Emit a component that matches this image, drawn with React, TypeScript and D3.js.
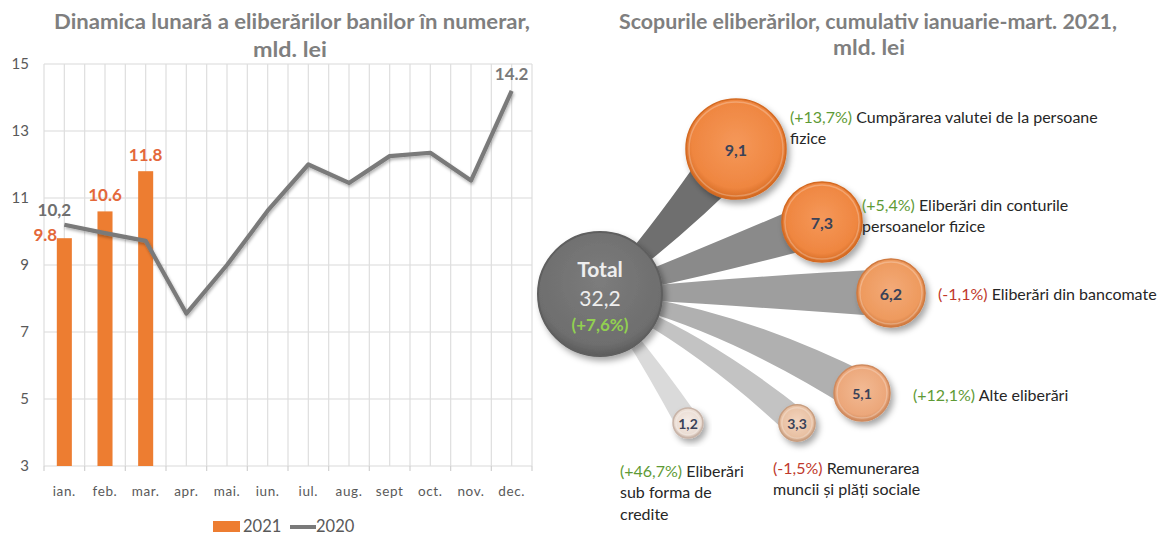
import React from 'react';
import * as d3 from 'd3';

const months = ['ian.', 'feb.', 'mar.', 'apr.', 'mai.', 'iun.', 'iul.', 'aug.', 'sept', 'oct.', 'nov.', 'dec.'];
const values2021 = [9.8, 10.6, 11.8];
const values2020 = [10.2, 9.95, 9.72, 7.55, 9.0, 10.62, 12.0, 11.45, 12.25, 12.35, 11.52, 14.2];
const yTicks = [3, 5, 7, 9, 11, 13, 15];
const labels2021 = ['9.8', '10.6', '11.8'];

const totalValue = '32,2';
const totalChange = '(+7,6%)';
const purposeValues = [9.1, 7.3, 6.2, 5.1, 3.3, 1.2];
const purposeValueLabels = ['9,1', '7,3', '6,2', '5,1', '3,3', '1,2'];
const purposeChanges = ['(+13,7%)', '(+5,4%)', '(-1,1%)', '(+12,1%)', '(-1,5%)', '(+46,7%)'];
const purposeNames = [
  ['Cumpărarea valutei de la persoane', 'fizice'],
  ['Eliberări din conturile', 'persoanelor fizice'],
  ['Eliberări din bancomate'],
  ['Alte eliberări'],
  ['Remunerarea', 'muncii și plăți sociale'],
  ['Eliberări', 'sub forma de', 'credite'],
];

const FONT = 'Lato, "Open Sans", sans-serif';
const GREY_TITLE = '#7f7f7f';
const ORANGE = '#ED7D31';

// layout for bubbles (positions only)
const bubbleLayout = [
  { cx: 736, cy: 149, ang: -44, w0: 18, w1: 50, bandColor: '#6f6f6f', fill: ['#F5985A', '#EF8640', '#D46A22'], lx: 790, ly: 116 },
  { cx: 822, cy: 222, ang: -17, w0: 16, w1: 46, bandColor: '#8a8a8a', fill: ['#F5985A', '#EF8640', '#D46A22'], lx: 862, ly: 204 },
  { cx: 891, cy: 293, ang: -1, w0: 14, w1: 48, bandColor: '#9e9e9e', fill: ['#F3AA78', '#EE9A5E', '#D07A40'], lx: 938, ly: 293 },
  { cx: 862, cy: 393, ang: 13, w0: 13, w1: 40, bandColor: '#b0b0b0', fill: ['#F2BA94', '#ECA77A', '#CF8A5E'], lx: 913, ly: 394 },
  { cx: 797, cy: 423, ang: 27, w0: 11, w1: 28, bandColor: '#c3c3c3', fill: ['#F3D4BE', '#E8C0A2', '#C89E80'], lx: 773, ly: 467 },
  { cx: 688, cy: 423, ang: 54, w0: 10, w1: 24, bandColor: '#dadada', fill: ['#F6EDE8', '#EADCD2', '#C8B4A8'], lx: 620, ly: 470 },
];

const TOTAL = { cx: 600, cy: 294, r: 62 };

function bandPath(sx: number, sy: number, bx: number, by: number, theta: number, w0: number, w1: number) {
  const dx = Math.cos(theta), dy = Math.sin(theta);
  const L = Math.hypot(bx - sx, by - sy);
  const cx = sx + dx * L * 0.45, cy = sy + dy * L * 0.45;
  const norm = (x: number, y: number) => { const l = Math.hypot(x, y) || 1; return [x / l, y / l]; };
  const [t0x, t0y] = norm(cx - sx, cy - sy);
  const [t1x, t1y] = norm(bx - cx, by - cy);
  const n0 = [-t0y, t0x], n1 = [-t1y, t1x];
  const nc = norm(n0[0] + n1[0], n0[1] + n1[1]);
  const wc = (w0 + w1) / 4;
  const p = d3.path();
  p.moveTo(sx + n0[0] * w0 / 2, sy + n0[1] * w0 / 2);
  p.quadraticCurveTo(cx + nc[0] * wc, cy + nc[1] * wc, bx + n1[0] * w1 / 2, by + n1[1] * w1 / 2);
  p.lineTo(bx - n1[0] * w1 / 2, by - n1[1] * w1 / 2);
  p.quadraticCurveTo(cx - nc[0] * wc, cy - nc[1] * wc, sx - n0[0] * w0 / 2, sy - n0[1] * w0 / 2);
  p.closePath();
  return p.toString();
}

function LeftChart() {
  const x0 = 44, x1 = 532, yTop = 64, yBot = 466;
  const x = d3.scalePoint<string>().domain(months).range([x0, x1]).padding(0.5);
  const step = x.step();
  const y = d3.scaleLinear().domain([3, 15]).range([yBot, yTop]);
  const barW = step * 0.37;
  const vLines = d3.range(0, months.length * 2 + 1).map((i) => x0 + (i * step) / 2);
  const line = d3.line<number>().x((_, i) => x(months[i]) as number).y((d) => y(d));
  return (
    <g>
      <text x={292} y={29} textAnchor="middle" fontFamily={FONT} fontWeight="bold" fontSize={20} fill={GREY_TITLE} textLength={476} lengthAdjust="spacingAndGlyphs">
        Dinamica lunară a eliberărilor banilor în numerar,
      </text>
      <text x={290} y={57} textAnchor="middle" fontFamily={FONT} fontWeight="bold" fontSize={20} fill={GREY_TITLE} textLength={74} lengthAdjust="spacingAndGlyphs">
        mld. lei
      </text>
      {yTicks.map((t) => (
        <line key={'h' + t} x1={x0} x2={x1} y1={y(t)} y2={y(t)} stroke="#d9d9d9" strokeWidth={1.2} />
      ))}
      {vLines.map((vx, i) => (
        <line key={'v' + i} x1={vx} x2={vx} y1={yTop} y2={yBot} stroke="#dedede" strokeWidth={1.2} />
      ))}
      {d3.range(0, months.length + 1).map((i) => (
        <line key={'tk' + i} x1={x0 + i * step} x2={x0 + i * step} y1={yBot} y2={yBot + 5} stroke="#d0d0d0" strokeWidth={1.2} />
      ))}
      {yTicks.map((t) => (
        <text key={'yl' + t} x={29} y={y(t) + 5} textAnchor="end" fontFamily={FONT} fontSize={15} fill="#595959">
          {t}
        </text>
      ))}
      {months.map((m) => (
        <text key={'xl' + m} x={x(m) as number} y={496} textAnchor="middle" fontFamily={FONT} fontSize={13.5} letterSpacing={0.6} fill="#595959">
          {m}
        </text>
      ))}
      {values2021.map((v, i) => (
        <rect key={'b' + i} x={(x(months[i]) as number) - barW / 2} y={y(v)} width={barW} height={yBot - y(v)} fill={ORANGE} />
      ))}
      <path d={line(values2020) || ''} fill="none" stroke="#7a7a7a" strokeWidth={4.2} strokeLinejoin="round" filter="url(#lineShadow)" />
      {values2021.map((v, i) => {
        const cx = x(months[i]) as number;
        const dx = i === 0 ? -19 : 0;
        const dy = i === 0 ? -4 : -17;
        return (
          <text key={'bl' + i} x={cx + dx} y={y(v) + dy} textAnchor="middle" dominantBaseline="central" fontFamily={FONT} fontWeight="bold" fontSize={17} fill="#E4683A">
            {labels2021[i]}
          </text>
        );
      })}
      <text x={(x(months[0]) as number) - 10} y={y(values2020[0]) - 15} textAnchor="middle" dominantBaseline="central" fontFamily={FONT} fontWeight="bold" fontSize={17} fill="#6f6f6f">
        10,2
      </text>
      <text x={x(months[11]) as number} y={y(values2020[11]) - 17} textAnchor="middle" dominantBaseline="central" fontFamily={FONT} fontWeight="bold" fontSize={17} fill="#7a7a7a">
        14.2
      </text>
      <rect x={213} y={521} width={27} height={11} fill={ORANGE} />
      <text x={243} y={532} fontFamily={FONT} fontSize={16.5} fill="#595959">2021</text>
      <line x1={290} x2={316} y1={527} y2={527} stroke="#7a7a7a" strokeWidth={4} />
      <text x={316} y={532} fontFamily={FONT} fontSize={16.5} fill="#595959">2020</text>
    </g>
  );
}

function RightChart() {
  const r = d3.scaleLinear().domain([0, 9.1]).range([0, 50]);
  const rad = (v: number) => Math.max(15, r(v));
  return (
    <g>
      <text x={868} y={29} textAnchor="middle" fontFamily={FONT} fontWeight="bold" fontSize={20} fill={GREY_TITLE} textLength={498} lengthAdjust="spacingAndGlyphs">
        Scopurile eliberărilor, cumulativ ianuarie-mart. 2021,
      </text>
      <text x={869} y={55} textAnchor="middle" fontFamily={FONT} fontWeight="bold" fontSize={20} fill={GREY_TITLE} textLength={72} lengthAdjust="spacingAndGlyphs">
        mld. lei
      </text>
      {bubbleLayout.map((b, i) => {
        const th = (b.ang * Math.PI) / 180;
        const sx = TOTAL.cx + Math.cos(th) * TOTAL.r * 0.7;
        const sy = TOTAL.cy + Math.sin(th) * TOTAL.r * 0.7;
        return <path key={'band' + i} d={bandPath(sx, sy, b.cx, b.cy, th, b.w0, b.w1)} fill={b.bandColor} />;
      })}
      <circle cx={TOTAL.cx} cy={TOTAL.cy} r={TOTAL.r} fill="url(#gTotal)" stroke="#5e5e5e" strokeWidth={2} filter="url(#bubShadow)" />
      <text x={TOTAL.cx} y={268} textAnchor="middle" dominantBaseline="central" fontFamily={FONT} fontWeight="bold" fontSize={21} fill="#eeeeee">Total</text>
      <text x={TOTAL.cx} y={297} textAnchor="middle" dominantBaseline="central" fontFamily={FONT} fontSize={21} fill="#eeeeee">{totalValue}</text>
      <text x={TOTAL.cx} y={324} textAnchor="middle" dominantBaseline="central" fontFamily={FONT} fontWeight="bold" fontSize={17} fill="#92D050">{totalChange}</text>
      {bubbleLayout.map((b, i) => {
        const rr = rad(purposeValues[i]);
        const neg = purposeChanges[i].startsWith('(-');
        const lines = purposeNames[i];
        return (
          <g key={'bub' + i}>
            <circle cx={b.cx} cy={b.cy} r={rr} fill={`url(#gB${i})`} stroke={b.fill[2]} strokeWidth={1.5} filter="url(#bubShadow)" />
            <circle cx={b.cx} cy={b.cy} r={rr - 3} fill="none" stroke="#ffffff" strokeOpacity={0.25} strokeWidth={1.5} />
            <text x={b.cx} y={b.cy} textAnchor="middle" dominantBaseline="central" fontFamily={FONT} fontWeight="bold" fontSize={rr > 30 ? 16 : 14} fill="#3a4258">
              {purposeValueLabels[i]}
            </text>
            {lines.map((ln, j) => (
              <text key={j} x={b.lx} y={b.ly + j * 21.5} dominantBaseline="central" fontFamily={FONT} fontSize={16} fill="#262626">
                {j === 0 ? (
                  <>
                    <tspan fill={neg ? '#C0392B' : '#5E9A35'}>{purposeChanges[i]}</tspan>
                    <tspan> {ln}</tspan>
                  </>
                ) : ln}
              </text>
            ))}
          </g>
        );
      })}
    </g>
  );
}

export default function App() {
  return (
    <svg width={1159} height={535} style={{ display: 'block', position: 'absolute', left: 0, top: 0, background: '#fff' }}>
      <defs>
        <filter id="lineShadow" x="-10%" y="-10%" width="120%" height="130%">
          <feDropShadow dx={1} dy={2} stdDeviation={1.5} floodColor="#000" floodOpacity={0.3} />
        </filter>
        <filter id="bubShadow" x="-30%" y="-30%" width="160%" height="160%">
          <feDropShadow dx={3} dy={4} stdDeviation={3} floodColor="#000" floodOpacity={0.35} />
        </filter>
        <radialGradient id="gTotal" cx="50%" cy="40%" r="60%">
          <stop offset="0%" stopColor="#7c7c7c" />
          <stop offset="85%" stopColor="#6e6e6e" />
          <stop offset="100%" stopColor="#5c5c5c" />
        </radialGradient>
        {bubbleLayout.map((b, i) => (
          <radialGradient key={i} id={`gB${i}`} cx="50%" cy="45%" r="55%">
            <stop offset="0%" stopColor={b.fill[0]} />
            <stop offset="80%" stopColor={b.fill[1]} />
            <stop offset="100%" stopColor={b.fill[2]} />
          </radialGradient>
        ))}
      </defs>
      <rect x={0} y={0} width={1159} height={535} fill="#fff" />
      <LeftChart />
      <RightChart />
    </svg>
  );
}
